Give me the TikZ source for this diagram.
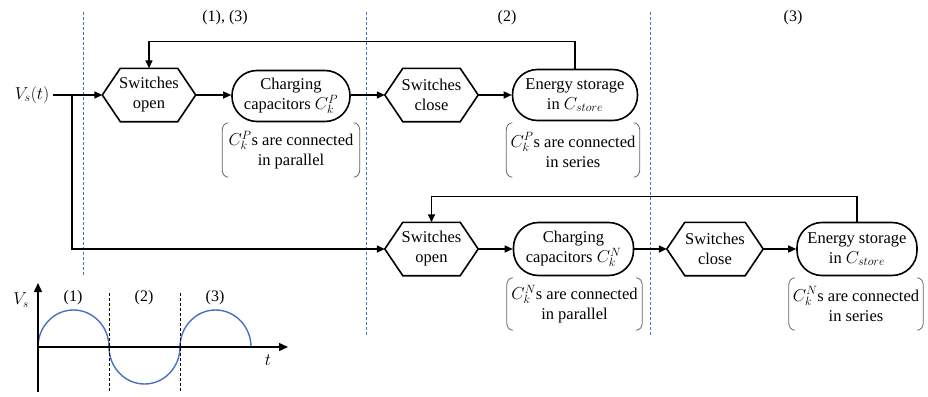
\documentclass[tikz,border=0pt]{standalone}
\usepackage{fontspec}
\setmainfont{Liberation Serif}
\newfontfamily\tnr{Liberation Serif}
\usetikzlibrary{arrows.meta}
\definecolor{bl}{RGB}{68,114,196}
\begin{document}
\begin{tikzpicture}[x=1pt,y=-1pt,
  every node/.style={font=\tnr\fontsize{16.5}{20}\selectfont},
  lab/.style={font=\tnr\fontsize{16}{18}\selectfont},
  hexbox/.style={minimum width=93pt, minimum height=53pt, inner sep=0pt, align=center},
  stadium/.style={draw, line width=1.6pt, rounded corners=25pt, minimum height=51pt, inner sep=0pt, align=center},
  note/.style={align=center, inner sep=0pt},
  conn/.style={line width=1.4pt, -{Triangle[length=8pt,width=7pt]}},
  seg/.style={line width=1.4pt},
  region/.style={bl, line width=1pt, dash pattern=on 3pt off 2pt},
  brk/.style={black!60, line width=0.8pt}
]
\useasboundingbox (0,0) rectangle (928,396);

% region separators
\draw[region] (83,12) -- (83,275);
\draw[region] (366,12) -- (366,335);
\draw[region] (650,12) -- (650,335);
\node[lab] (l13) at (225,18) {(1), (3)};
\node[lab] (l2) at (507,18) {(2)};
\node[lab] (l3) at (793,18) {(3)};

% top row
\node (vs) at (32,95) {$V_s(t)$};
\node[hexbox] (so1) at (149,95) {Switches\\open};
\node[stadium, minimum width=118pt] (cc1) at (291,96) {Charging\\capacitors $C_k^P$};
\node[hexbox] (sc1) at (431.5,95) {Switches\\close};
\node[stadium, minimum width=125pt] (es1) at (575,95) {Energy storage\\in $C_{store}$};
\node[note, minimum width=137pt, minimum height=54pt] (n1) at (291,150) {$C_k^P$s are connected\\in parallel};
\node[note, minimum width=133pt, minimum height=54pt] (n2) at (573,150) {$C_k^P$s are connected\\in series};

% bottom row
\node[hexbox] (so2) at (431.5,249) {Switches\\open};
\node[stadium, minimum width=120pt, minimum height=53pt] (cc2) at (573.5,249) {Charging\\capacitors $C_k^N$};
\node[hexbox, minimum width=96pt] (sc2) at (715,249) {Switches\\close};
\node[stadium, minimum width=120pt, minimum height=53pt] (es2) at (857,249) {Energy storage\\in $C_{store}$};
\node[note, minimum width=135pt, minimum height=52pt] (n3) at (574.5,304) {$C_k^N$s are connected\\in parallel};
\node[note, minimum width=134pt, minimum height=52pt] (n4) at (856,304) {$C_k^N$s are connected\\in series};

% hexagon outlines
\foreach \n in {so1,sc1,so2,sc2}{
  \draw[line width=1.6pt, line join=miter] (\n.west) -- ([xshift=18pt]\n.north west) -- ([xshift=-18pt]\n.north east) -- (\n.east) -- ([xshift=-18pt]\n.south east) -- ([xshift=18pt]\n.south west) -- cycle;
}
% brackets
\foreach \n in {n1,n2,n3,n4}{
  \draw[brk] ([xshift=6pt]\n.north west) to[out=180,in=90] ([yshift=-7pt]\n.north west) -- ([yshift=7pt]\n.south west) to[out=-90,in=180] ([xshift=6pt]\n.south west);
  \draw[brk] ([xshift=-6pt]\n.north east) to[out=0,in=90] ([yshift=-7pt]\n.north east) -- ([yshift=7pt]\n.south east) to[out=-90,in=0] ([xshift=-6pt]\n.south east);
}

% connectors
\coordinate (j) at (72,95);
\draw[seg] (vs.east) -- (j);
\draw[conn] (j) -- (so1.west);
\draw[conn] (j) |- (so2.west);
\draw[conn] (so1.east) -- (cc1.west |- so1.east);
\draw[conn] (cc1.east |- sc1.west) -- (sc1.west);
\draw[conn] (sc1.east) -- (es1.west);
\draw[conn] (es1.north) -- ++(0,-27) -| (so1.north);
\draw[conn] (so2.east) -- (cc2.west);
\draw[conn] (cc2.east) -- (sc2.west);
\draw[conn] (sc2.east) -- (es2.west);
\draw[conn] (es2.north) -- ++(0,-25.5) -| (so2.north);

% waveform
\coordinate (o) at (38,347);
\draw[bl, line width=1.4pt] (o) arc[start angle=180, end angle=0, x radius=35.5pt, y radius=37pt]
  arc[start angle=180, end angle=360, x radius=35.5pt, y radius=37pt]
  arc[start angle=180, end angle=0, x radius=35.5pt, y radius=37pt];
\draw[line width=1.4pt, -{Triangle[length=9pt,width=8pt]}] (38,392) -- (38,283);
\draw[line width=1.4pt, -{Triangle[length=9pt,width=8pt]}] (o) -- (288,347);
\draw[line width=1pt, dash pattern=on 3pt off 2pt] (109,293) -- (109,392);
\draw[line width=1pt, dash pattern=on 3pt off 2pt] (180,293) -- (180,392);
\node[lab] (w1) at (73,298) {(1)};
\node[lab] (w2) at (144,298) {(2)};
\node[lab] (w3) at (215,298) {(3)};
\node[lab] (wv) at (21,300) {$V_s$};
\node[lab] (wt) at (268,360) {$t$};
\end{tikzpicture}
\end{document}
